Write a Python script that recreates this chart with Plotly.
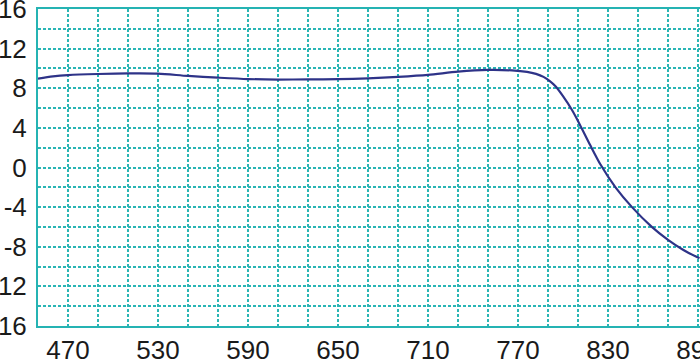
import plotly.graph_objects as go

wavelength = [450, 460, 470, 490, 510, 530, 550, 570, 590, 610, 630, 650, 670, 690, 710, 730, 750,
              766, 776, 782, 787, 791, 795, 800, 806, 811, 818, 825, 835, 846, 859, 870, 880, 891]
values = [8.98, 9.2, 9.33, 9.44, 9.5, 9.48, 9.24, 9.07, 8.93, 8.88, 8.89, 8.92, 9.0, 9.15, 9.35, 9.68, 9.85,
          9.8, 9.65, 9.45, 9.15, 8.75, 8.2, 7.2, 5.8, 4.4, 2.3, 0.3, -2.0, -4.0, -5.97, -7.3, -8.3, -9.17]

x_ticks = [470, 530, 590, 650, 710, 770, 830, 890]
y_ticks = [16, 12, 8, 4, 0, -4, -8, -12, -16]

teal = "#25b3b3"
grid_color = "#2ab5b5"

fig = go.Figure()
fig.add_trace(go.Scatter(x=wavelength, y=values, mode="lines",
                         line=dict(color="#2e3388", width=2.2, shape="spline", smoothing=0.8),
                         hoverinfo="skip", showlegend=False))

font = dict(family="Liberation Sans, Arial, sans-serif", size=26, color="#1a1a1a")

fig.update_layout(
    width=700, height=361,
    margin=dict(l=38, r=0, t=9, b=35),
    paper_bgcolor="white", plot_bgcolor="white",
    font=font,
    xaxis=dict(range=[450, 891.33], tickmode="array", tickvals=x_ticks,
               ticktext=[str(v) for v in x_ticks],
               showgrid=True, gridcolor=grid_color, griddash="3px,2px", gridwidth=1.5,
               minor=dict(tickmode="linear", tick0=450, dtick=20, showgrid=True,
                          gridcolor=grid_color, griddash="3px,2px", gridwidth=1.5),
               showline=True, linecolor=teal, linewidth=2, mirror=True,
               ticks="", ticklen=0, ticklabelstandoff=0, ticklabeloverflow="allow",
               automargin=False, zeroline=False, fixedrange=True),
    yaxis=dict(range=[-16, 16], tickmode="array", tickvals=y_ticks,
               ticktext=[str(v) for v in y_ticks],
               showgrid=True, gridcolor=grid_color, griddash="3px,2px", gridwidth=1.5,
               minor=dict(tickmode="linear", tick0=-16, dtick=2, showgrid=True,
                          gridcolor=grid_color, griddash="3px,2px", gridwidth=1.5),
               showline=True, linecolor=teal, linewidth=2,
               ticks="", ticklen=0, ticklabelstandoff=4, ticklabeloverflow="allow",
               automargin=False, zeroline=False, fixedrange=True),
)

fig.write_html("out.html")
